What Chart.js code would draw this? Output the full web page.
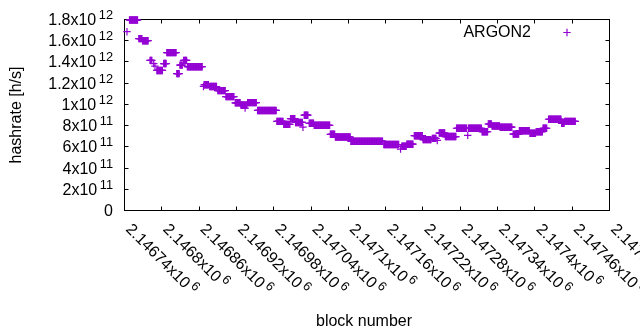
<!DOCTYPE html>
<html>
<head>
<meta charset="utf-8">
<script src="https://cdn.jsdelivr.net/npm/chart.js@4.4.1/dist/chart.umd.min.js"></script>
<style>
  html, body { margin: 0; padding: 0; background: #fff; }
</style>
</head>
<body>
<canvas id="chart" width="640" height="330"></canvas>
<script>
const FIRST_BLOCK = 2146740;

// runs of blocks with the same hashrate estimate (offsets from FIRST_BLOCK)
const runStart = [4, 8, 23, 29, 41, 47, 49, 52, 63, 68, 84, 89, 95, 101,
    127, 128, 137, 150, 163, 178, 187, 194, 195, 198, 214, 245, 256, 267, 275, 287,
    289, 297, 305, 331, 339, 364, 417, 444, 446, 454, 466, 480, 495, 503, 506, 516,
    534, 552, 553, 575, 585, 591, 604, 625, 635, 652, 662, 673, 682, 703, 708];
const runEnd = [4, 21, 28, 38, 44, 47, 49, 61, 67, 83, 88, 93, 100, 125,
    127, 135, 148, 162, 176, 186, 193, 194, 197, 212, 244, 255, 266, 274, 286, 287,
    295, 304, 330, 338, 363, 415, 441, 444, 453, 464, 479, 493, 501, 503, 515, 533,
    550, 552, 574, 584, 590, 603, 623, 634, 651, 661, 672, 679, 702, 707, 725];
const runHash = [1.685e12, 1.795e12, 1.62e12, 1.60e12, 1.415e12, 1.385e12, 1.36e12, 1.32e12, 1.385e12, 1.488e12, 1.29e12, 1.37e12, 1.415e12, 1.355e12,
    1.169e12, 1.185e12, 1.168e12, 1.13e12, 1.073e12, 1.015e12, 9.94e11, 9.65e11, 9.94e11, 1.017e12, 9.43e11, 8.4e11, 8.12e11, 8.65e11, 8.3e11, 7.85e11,
    8.98e11, 8.22e11, 8.03e11, 7.18e11, 6.92e11, 6.53e11, 6.22e11, 5.78e11, 6.05e11, 6.25e11, 7.05e11, 6.68e11, 6.8e11, 6.6e11, 7.3e11, 6.97e11,
    7.75e11, 7.08e11, 7.75e11, 7.42e11, 8.15e11, 7.97e11, 7.85e11, 7.2e11, 7.52e11, 7.28e11, 7.42e11, 7.75e11, 8.6e11, 8.22e11, 8.4e11];

const xTicks = [2146740, 2146800, 2146860, 2146920, 2146980, 2147040, 2147100,
    2147160, 2147220, 2147280, 2147340, 2147400, 2147460, 2147520];
const xTickMant = ['2.14674', '2.1468', '2.14686', '2.14692', '2.14698', '2.14704', '2.1471',
    '2.14716', '2.14722', '2.14728', '2.14734', '2.1474', '2.14746', '2.14752'];
const yTicks = [0, 2e11, 4e11, 6e11, 8e11, 1e12, 1.2e12, 1.4e12, 1.6e12, 1.8e12];
const yTickMant = ['0', '2', '4', '6', '8', '1', '1.2', '1.4', '1.6', '1.8'];
const yTickExp = ['', '11', '11', '11', '11', '12', '12', '12', '12', '12'];

const PURPLE = '#9400d3';
const FONT = '16px "Liberation Sans", Arial, sans-serif';
const SUP_FONT = '12.8px "Liberation Sans", Arial, sans-serif';

const points = [];
runStart.forEach((s, i) => {
    for (let b = s; b <= runEnd[i]; b++) {
        points.push({ x: FIRST_BLOCK + b, y: runHash[i] });
    }
});

// draws "mant x10^exp" starting at x (left aligned), baseline y
function drawSci(ctx, mant, exp, x, y) {
    ctx.font = FONT;
    const base = exp ? mant + 'x10' : mant;
    ctx.fillText(base, x, y);
    if (exp) {
        const w = ctx.measureText(base).width;
        ctx.font = SUP_FONT;
        ctx.fillText(exp, x + w + 2.5, y - 6);
    }
}

function sciWidth(ctx, mant, exp) {
    ctx.font = FONT;
    const base = exp ? mant + 'x10' : mant;
    let w = ctx.measureText(base).width;
    if (exp) {
        ctx.font = SUP_FONT;
        w += 2.5 + ctx.measureText(exp).width;
    }
    return w;
}

const frame = {
    id: 'frame',
    beforeDatasetsDraw(chart) {
        const { ctx, chartArea: a, scales: { x, y } } = chart;
        ctx.save();
        ctx.strokeStyle = '#000';
        ctx.lineWidth = 1;
        ctx.strokeRect(a.left, a.top, a.right - a.left, a.bottom - a.top);
        ctx.beginPath();
        yTicks.forEach((v) => {
            const py = Math.floor(y.getPixelForValue(v)) + 0.5;
            ctx.moveTo(a.left, py); ctx.lineTo(a.left + 4, py);
            ctx.moveTo(a.right, py); ctx.lineTo(a.right - 4, py);
        });
        xTicks.forEach((v) => {
            const px = Math.floor(x.getPixelForValue(v)) + 0.5;
            ctx.moveTo(px, a.bottom); ctx.lineTo(px, a.bottom - 4);
            ctx.moveTo(px, a.top); ctx.lineTo(px, a.top + 4);
        });
        ctx.stroke();
        ctx.restore();
    },
    afterDraw(chart) {
        const { ctx, chartArea: a, scales: { x, y } } = chart;
        ctx.save();
        ctx.fillStyle = '#000';
        ctx.textAlign = 'left';
        ctx.textBaseline = 'alphabetic';

        yTicks.forEach((v, i) => {
            const py = y.getPixelForValue(v);
            const w = sciWidth(ctx, yTickMant[i], yTickExp[i]);
            drawSci(ctx, yTickMant[i], yTickExp[i], 113 - w, py + 5.5);
        });

        xTicks.forEach((v, i) => {
            const px = x.getPixelForValue(v);
            ctx.save();
            ctx.translate(px + 0.5, a.bottom + 19.5);
            ctx.rotate(Math.PI / 4);
            drawSci(ctx, xTickMant[i], '6', 0, 0);
            ctx.restore();
        });

        ctx.font = FONT;
        ctx.save();
        ctx.translate(21, 115);
        ctx.rotate(-Math.PI / 2);
        ctx.textAlign = 'center';
        ctx.fillText('hashrate [h/s]', 0, 0);
        ctx.restore();

        ctx.textAlign = 'center';
        ctx.fillText('block number', 364, 325.5);

        // key
        ctx.textAlign = 'right';
        ctx.fillText('ARGON2', 531, 37);
        ctx.strokeStyle = PURPLE;
        ctx.lineWidth = 1.2;
        ctx.beginPath();
        ctx.moveTo(563.3, 32.5); ctx.lineTo(570.7, 32.5);
        ctx.moveTo(567, 28.8); ctx.lineTo(567, 36.2);
        ctx.stroke();
        ctx.restore();
    }
};

new Chart(document.getElementById('chart'), {
    type: 'scatter',
    data: {
        datasets: [{
            label: 'ARGON2',
            data: points,
            showLine: false,
            pointStyle: 'cross',
            pointRadius: 3.7,
            pointHoverRadius: 3.7,
            pointBorderWidth: 1.2,
            borderColor: PURPLE,
            backgroundColor: PURPLE,
            clip: false,
        }]
    },
    options: {
        responsive: false,
        devicePixelRatio: 1,
        animation: false,
        events: [],
        layout: { padding: { top: 19.5, right: 30.5, left: 0, bottom: 0 } },
        plugins: {
            legend: { display: false },
            tooltip: { enabled: false },
        },
        scales: {
            x: {
                type: 'linear',
                min: 2146740,
                max: 2147520,
                ticks: { display: false },
                grid: { display: false },
                border: { display: false },
                afterFit: (s) => { s.height = 119.5; },
            },
            y: {
                min: 0,
                max: 1.8e12,
                ticks: { display: false },
                grid: { display: false },
                border: { display: false },
                afterFit: (s) => { s.width = 124.5; },
            }
        }
    },
    plugins: [frame]
});
</script>
</body>
</html>
